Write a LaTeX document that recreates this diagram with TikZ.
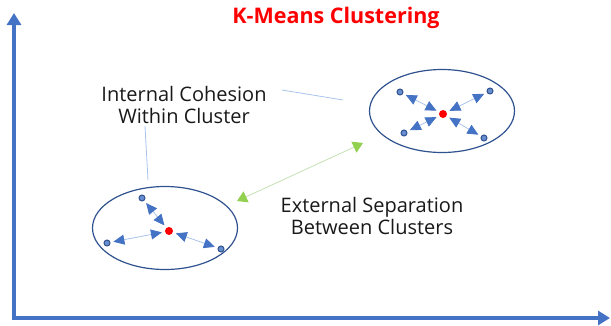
\documentclass[tikz,border=0pt]{standalone}
\usepackage{fontspec}
\setmainfont{Open Sans}
\usepackage{xcolor}
\usetikzlibrary{arrows.meta, positioning, calc, shapes.geometric}

\definecolor{axisblue}{HTML}{4472C4}
\definecolor{ringblue}{HTML}{2F528F}
\definecolor{lineblue}{HTML}{A9C4EB}
\definecolor{sepgreen}{HTML}{92D050}
\definecolor{linkgreen}{HTML}{C5E0B4}

\begin{document}
\begin{tikzpicture}[x=1pt, y=-1pt,
  axis/.style={line width=4pt, axisblue, -{Triangle[length=12pt, width=14pt]}},
  cluster/.style={draw=ringblue, line width=1.2pt, ellipse, minimum width=145pt, minimum height=83pt, inner sep=0pt},
  member/.style={circle, draw=ringblue, fill=axisblue!80, line width=1pt, minimum size=6pt, inner sep=0pt},
  centre/.style={circle, fill=red, minimum size=8pt, inner sep=0pt},
  pull/.style={draw=lineblue, line width=0.8pt, {Triangle[length=11pt, width=10pt, color=axisblue]}-{Triangle[length=11pt, width=10pt, color=axisblue]}, shorten <=3pt, shorten >=3pt},
  apart/.style={draw=linkgreen, line width=0.8pt, {Triangle[length=10pt, width=12pt, color=sepgreen]}-{Triangle[length=10pt, width=12pt, color=sepgreen]}},
  pointer/.style={draw=lineblue, line width=0.8pt},
  label/.style={font=\fontsize{20}{22}\selectfont, align=center, text=black!90}]
\useasboundingbox (0,0) rectangle (611,325);

% Axes
\coordinate (origin) at (14,320);
\coordinate (ytop) at (14,13);
\coordinate (xend) at (610,318);
\draw[axis] (origin) -- (ytop);
\draw[axis] (14,318) -- (xend);

% Title
\node[font=\fontsize{21.5}{25}\bfseries, text=red] (title) at (336,18) {K-Means Clustering};

% Cluster top right
\node[cluster] (ringA) at (442,111) {};
\node[centre] (cA) at (443,114) {};
\node[member] (a1) at (400,92) {};
\node[member] (a2) at (490,91) {};
\node[member] (a3) at (404,133) {};
\node[member] (a4) at (484,138) {};
\foreach \p in {a1,a2,a3,a4}
  \draw[pull] (\p) -- (cA);

% Cluster bottom left
\node[cluster] (ringB) at (165,228) {};
\node[centre] (cB) at (169,231) {};
\node[member] (b1) at (142,198) {};
\node[member] (b2) at (107,243) {};
\node[member] (b3) at (221,249) {};
\foreach \p in {b1,b2,b3}
  \draw[pull] (\p) -- (cB);

% Separation between clusters
\coordinate (sepB) at (237,201);
\coordinate (sepA) at (363,143);
\draw[apart] (sepB) -- (sepA);

% Labels
\node[label] (cohesion) at (184,105) {Internal Cohesion\\Within Cluster};
\node[label] (separation) at (372,216) {External Separation\\Between Clusters};

% Pointers from the cohesion label
\coordinate (pA) at (343,100);
\coordinate (pB) at (148,180);
\draw[pointer] ($(cohesion.east)+(12,-15)$) -- (pA);
\draw[pointer] ($(cohesion.south)+(-39,-1)$) -- (pB);
\end{tikzpicture}
\end{document}
